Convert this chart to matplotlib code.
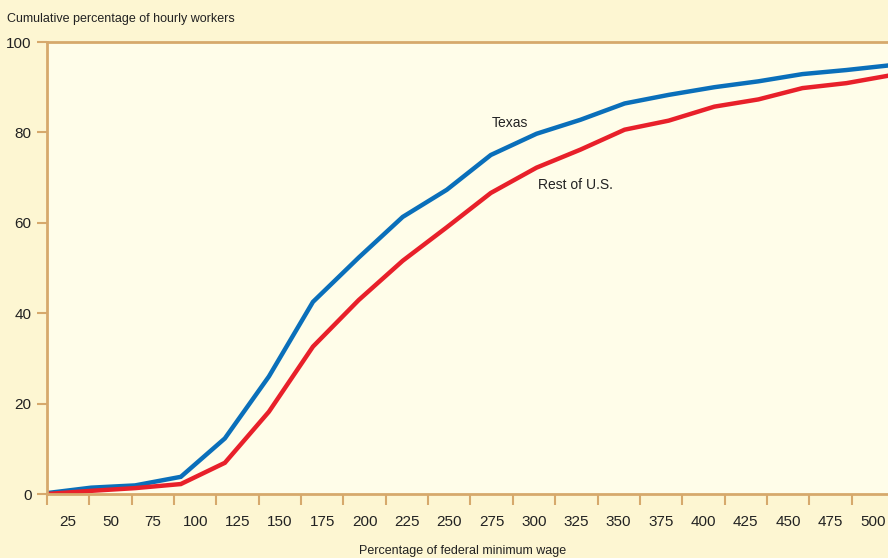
import matplotlib
matplotlib.use('Agg')
import matplotlib.pyplot as plt
from matplotlib.ticker import FixedLocator

plt.rcParams['font.family'] = ['Liberation Sans Narrow', 'Liberation Sans', 'DejaVu Sans']

# x positions of the data points (percentage of federal minimum wage)
wage_pct = [0, 26, 52, 79, 105, 131, 157, 184, 210, 236,
            262, 289, 315, 341, 367, 394, 420, 446, 472, 499]
texas = [0.2, 1.4, 1.9, 3.8, 12.3, 26.0, 42.5, 52.3, 61.3, 67.3,
         75.0, 79.7, 82.8, 86.4, 88.3, 90.0, 91.3, 92.9, 93.8, 94.9]
rest_us = [0.0, 0.7, 1.3, 2.2, 6.9, 18.2, 32.6, 42.9, 51.6, 59.0,
           66.6, 72.2, 76.2, 80.6, 82.6, 85.7, 87.3, 89.8, 90.9, 92.7]
tick_labels = [str(v) for v in range(25, 525, 25)]
y_ticks = [0, 20, 40, 60, 80, 100]

tan = '#d6a96c'
fig = plt.figure(figsize=(8.88, 5.58), dpi=100, facecolor='#fdf6d2')
ax = fig.add_axes([47 / 888, 64 / 558, 841 / 888, 452 / 558])
ax.set_facecolor('#fffde9')

ax.plot(wage_pct, texas, color='#0a6fba', lw=3.2, solid_joinstyle='miter')
ax.plot(wage_pct, rest_us, color='#e8202a', lw=3.2, solid_joinstyle='miter')

ax.set_xlim(0, 496.5)
ax.set_ylim(0, 100)

for s in ['left', 'bottom', 'top']:
    ax.spines[s].set_color(tan)
    ax.spines[s].set_linewidth(2)
ax.spines['right'].set_visible(False)

# ticks on interval boundaries, labels centered inside intervals
ax.xaxis.set_major_locator(FixedLocator(list(range(0, 525, 25))))
ax.xaxis.set_minor_locator(FixedLocator([v - 12.5 for v in range(25, 525, 25)]))
ax.xaxis.set_major_formatter(plt.NullFormatter())
ax.xaxis.set_minor_formatter(plt.FixedFormatter(tick_labels))
ax.tick_params(axis='x', which='major', direction='out', length=8, width=1.5, color=tan)
ax.tick_params(axis='x', which='minor', length=0, pad=15, labelsize=11, labelcolor='#222222')

ax.set_yticks(y_ticks)
ax.tick_params(axis='y', direction='out', length=7, width=1.5, color=tan,
               labelsize=11, labelcolor='#222222', pad=4)

fig.text(7 / 888, 1 - 19 / 558, 'Cumulative percentage of hourly workers',
         ha='left', va='center', fontsize=9, color='#222222')
fig.text(463 / 888, 1 - 551 / 558, 'Percentage of federal minimum wage',
         ha='center', va='center', fontsize=9, color='#222222')

ax.text(273.5, 82, 'Texas', ha='center', va='center', fontsize=10, color='#222222')
ax.text(290, 68.4, 'Rest of U.S.', ha='left', va='center', fontsize=10, color='#222222')

fig.savefig('out.png', dpi=100, facecolor=fig.get_facecolor())
